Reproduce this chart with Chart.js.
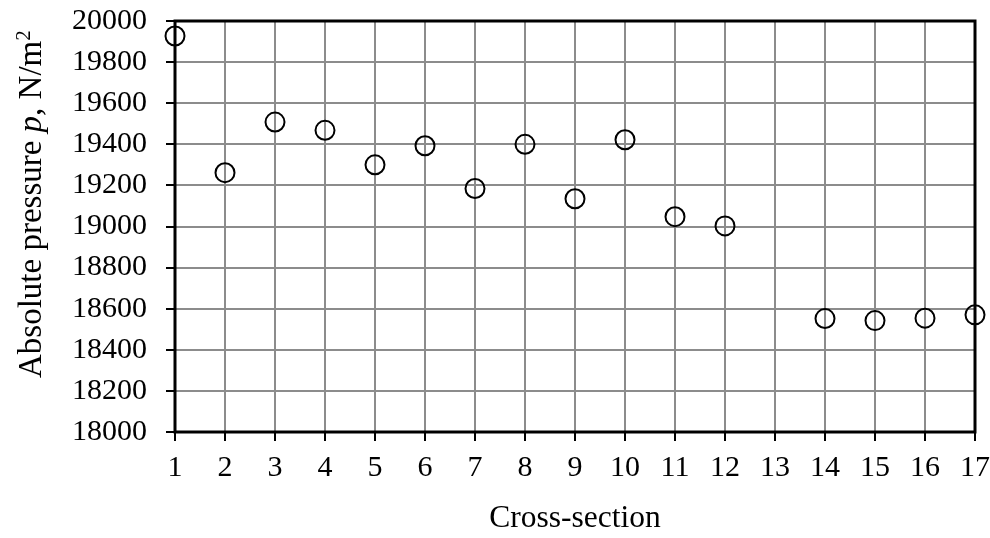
<!DOCTYPE html>
<html>
<head>
<meta charset="utf-8">
<script src="https://cdn.jsdelivr.net/npm/chart.js@4"></script>
<style>
  html, body { margin: 0; padding: 0; background: #fff; }
  #wrap { width: 990px; height: 538px; }
</style>
</head>
<body>
<div id="wrap"><canvas id="my-chart" width="990" height="538"></canvas></div>
<script>
// cross-sections along the duct and measured absolute pressure (N/m2)
const sections = ["1", "2", "3", "4", "5", "6", "7", "8", "9", "10", "11", "12", "13", "14", "15", "16", "17"]
const pressure = [19927, 19262, 19508, 19468, 19300, 19393, 19185, 19400, 19135, 19422, 19048, 19003, null, 18552, 18542, 18554, 18570]
const yMin = 18000
const yMax = 20000
const yStep = 200

const FONT = "'Liberation Serif', 'Times New Roman', serif"
const SIZE = 30

// thick frame around the plot area
const frame = {
  id: "frame",
  beforeDatasetsDraw(chart) {
    const { ctx, chartArea: a } = chart
    ctx.save()
    ctx.strokeStyle = "#000"
    ctx.lineWidth = 3
    ctx.strokeRect(a.left, a.top, a.right - a.left, a.bottom - a.top)
    ctx.restore()
  }
}

// y title with italic p and superscript 2
const yTitle = {
  id: "yTitle",
  afterDraw(chart) {
    const ctx = chart.ctx
    const size = 33
    const parts = [
      { t: "Absolute pressure ", f: `${size}px ${FONT}`, dy: 0 },
      { t: "p", f: `italic ${size}px ${FONT}`, dy: 0 },
      { t: ", N/m", f: `${size}px ${FONT}`, dy: 0 },
      { t: "2", f: `${Math.round(size * 0.65)}px ${FONT}`, dy: -size * 0.33 }
    ]
    ctx.save()
    ctx.fillStyle = "#000"
    ctx.textBaseline = "alphabetic"
    ctx.translate(41, 378)
    ctx.rotate(-Math.PI / 2)
    let x = 0
    parts.forEach((p) => {
      ctx.font = p.f
      ctx.fillText(p.t, x, p.dy)
      x += ctx.measureText(p.t).width
    })
    ctx.restore()
  }
}

window.onload = function () {
  const ctx = document.getElementById("my-chart").getContext("2d")
  new Chart(ctx, {
    type: "line",
    data: {
      labels: sections,
      datasets: [
        {
          data: pressure,
          showLine: false,
          pointStyle: "circle",
          pointRadius: 9.5,
          pointHoverRadius: 9.5,
          pointBorderWidth: 2,
          pointBorderColor: "#000",
          pointBackgroundColor: "rgba(0,0,0,0)"
        }
      ]
    },
    options: {
      responsive: false,
      animation: false,
      layout: { padding: { top: 21, right: 15, left: 0, bottom: 0 } },
      plugins: {
        legend: { display: false },
        tooltip: { enabled: false }
      },
      scales: {
        x: {
          type: "category",
          offset: false,
          border: { display: false },
          grid: { color: "#8c8c8c", lineWidth: 2, tickLength: 9, tickColor: "#000", tickWidth: 2 },
          ticks: { color: "#000", font: { family: FONT, size: SIZE }, padding: 9, maxRotation: 0, autoSkip: false },
          title: { display: true, text: "Cross-section", color: "#000", font: { family: FONT, size: 31.5 }, padding: { top: 19, bottom: 0 } },
          afterFit(scale) {
            scale.height = 106
            scale.paddingLeft = 0
            scale.paddingRight = 0
          }
        },
        y: {
          min: yMin,
          max: yMax,
          border: { display: false },
          grid: { color: "#8c8c8c", lineWidth: 2, tickLength: 9, tickColor: "#000", tickWidth: 2 },
          ticks: { stepSize: yStep, color: "#000", font: { family: FONT, size: SIZE }, padding: 19, callback: (v) => String(v) },
          afterFit(scale) {
            scale.width = 175
            scale.paddingTop = 0
            scale.paddingBottom = 0
          }
        }
      }
    },
    plugins: [frame, yTitle]
  })
}
</script>
</body>
</html>
